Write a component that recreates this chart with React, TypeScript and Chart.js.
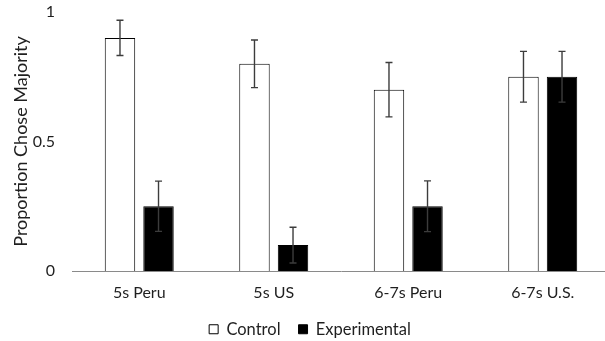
import React, { useEffect, useRef } from "react";
import { Chart, registerables } from "chart.js";

Chart.register(...registerables);

const categories = ["5s Peru", "5s US", "6-7s Peru", "6-7s U.S."];
const controlValues = [0.9, 0.8, 0.7, 0.75];
const controlErrors = [0.068, 0.092, 0.105, 0.098];
const experimentalValues = [0.25, 0.1, 0.25, 0.75];
const experimentalErrors = [0.097, 0.069, 0.098, 0.098];
const yTicks = [0, 0.5, 1];
const seriesErrors = [controlErrors, experimentalErrors];

const FONT = "Lato, 'Open Sans', sans-serif";
const TEXT = "#1f1f1f";

const errorBarPlugin = {
  id: "errorBars",
  afterDatasetsDraw(chart: any) {
    const ctx = chart.ctx;
    const yScale = chart.scales.y;
    ctx.save();
    ctx.strokeStyle = "#3c3c3c";
    ctx.lineWidth = 1.4;
    chart.data.datasets.forEach((ds: any, di: number) => {
      const meta = chart.getDatasetMeta(di);
      const errs = seriesErrors[di];
      meta.data.forEach((el: any, i: number) => {
        const v = ds.data[i];
        const e = errs[i];
        const x = el.x;
        const yTop = yScale.getPixelForValue(v + e);
        const yBot = yScale.getPixelForValue(v - e);
        const cap = 3.5;
        ctx.beginPath();
        ctx.moveTo(x, yTop);
        ctx.lineTo(x, yBot);
        ctx.moveTo(x - cap, yTop);
        ctx.lineTo(x + cap, yTop);
        ctx.moveTo(x - cap, yBot);
        ctx.lineTo(x + cap, yBot);
        ctx.stroke();
      });
    });
    ctx.restore();
  },
};

const legendHeightPlugin = {
  id: "legendHeight",
  beforeLayout(chart: any) {
    const lg = chart.legend;
    if (lg && !lg._patchedFit) {
      const orig = lg.fit.bind(lg);
      lg.fit = function () {
        orig();
        this.height = 38;
      };
      lg._patchedFit = true;
    }
  },
};

export default function App() {
  const ref = useRef<HTMLCanvasElement | null>(null);

  useEffect(() => {
    if (!ref.current) return;
    const chart = new Chart(ref.current, {
      type: "bar",
      data: {
        labels: categories,
        datasets: [
          {
            label: "Control",
            data: controlValues,
            backgroundColor: "#ffffff",
            borderColor: "#000000",
            borderWidth: 1,
            categoryPercentage: 0.573,
            barPercentage: 0.79,
          },
          {
            label: "Experimental",
            data: experimentalValues,
            backgroundColor: "#000000",
            borderColor: "#000000",
            borderWidth: 1,
            categoryPercentage: 0.573,
            barPercentage: 0.79,
          },
        ],
      },
      options: {
        responsive: false,
        animation: false,
        devicePixelRatio: 1,
        layout: { padding: { top: 0, left: 10, right: 10, bottom: 0 } },
        plugins: {
          tooltip: { enabled: false },
          legend: {
            position: "bottom",
            labels: {
              boxWidth: 9,
              boxHeight: 9,
              padding: 18,
              color: TEXT,
              font: { family: FONT, size: 16.5 },
            },
          },
        },
        scales: {
          x: {
            grid: { display: false, drawTicks: false },
            border: { display: true, color: "#8a8a8a", width: 1 },
            ticks: {
              color: TEXT,
              padding: 12,
              maxRotation: 0,
              font: { family: FONT, size: 16 },
            },
            afterFit: (s: any) => {
              s.height = 32;
            },
          },
          y: {
            min: 0,
            max: 1,
            afterBuildTicks: (s: any) => {
              s.ticks = yTicks.map((v) => ({ value: v }));
            },
            grid: { display: false, drawTicks: false },
            border: { display: false },
            ticks: {
              color: TEXT,
              padding: 17,
              font: { family: FONT, size: 16 },
              callback: (v: any) => String(v),
            },
            title: {
              display: true,
              text: "Proportion Chose Majority",
              color: TEXT,
              font: { family: FONT, size: 18 },
              padding: { top: 0, bottom: 0 },
            },
            afterFit: (s: any) => {
              s.width = 62;
              s.paddingTop = 12;
              s.paddingBottom = 0;
            },
          },
        },
      },
      plugins: [errorBarPlugin, legendHeightPlugin],
    });
    return () => chart.destroy();
  }, []);

  return (
    <div style={{ position: "fixed", left: 0, top: 0, width: 620, height: 341, background: "#fff" }}>
      <canvas ref={ref} width={620} height={341} />
    </div>
  );
}
